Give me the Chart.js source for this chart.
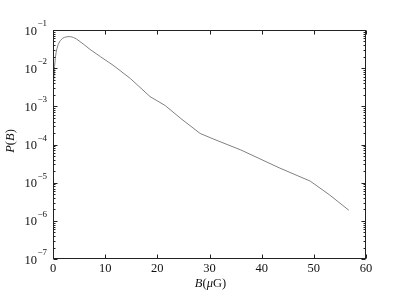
<!DOCTYPE html>
<html>
<head>
<meta charset="utf-8">
<script src="https://cdn.jsdelivr.net/npm/chart.js@4/dist/chart.umd.min.js"></script>
<style>
  html, body { margin: 0; padding: 0; background: #fff; }
  #wrap { width: 407px; height: 305px; }
</style>
</head>
<body>
<div id="wrap"><canvas id="grafico"></canvas></div>
<script>
// valores
const campoB = [0.15, 0.3, 0.44, 0.6, 0.77, 1.0, 1.4, 1.8, 2.2, 2.7, 3.3, 3.9, 4.5, 5.8, 7.1, 9.1, 11.5, 14.8, 18.6, 21.5, 24.5, 28.2, 30.7, 36, 43.5, 49.3, 53, 56.7];
const probB = [5e-3, 1.1e-2, 1.8e-2, 2.6e-2, 3.3e-2, 4.2e-2, 5.3e-2, 6.0e-2, 6.4e-2, 6.65e-2, 6.7e-2, 6.4e-2, 5.8e-2, 4.3e-2, 3.1e-2, 2.0e-2, 1.2e-2, 5.4e-3, 1.8e-3, 1.05e-3, 4.8e-4, 1.95e-4, 1.4e-4, 7.2e-5, 2.4e-5, 1.1e-5, 4.8e-6, 1.9e-6];
const ticksX = [0, 10, 20, 30, 40, 50, 60];
const expoentesY = [-7, -6, -5, -4, -3, -2, -1];

const fonte = '"Liberation Serif", "DejaVu Serif", serif';

// desenha moldura, ticks para dentro e rotulos
const eixosPlugin = {
  id: 'eixos',
  afterDraw(chart) {
    const ctx = chart.ctx;
    const a = chart.chartArea;
    const sx = chart.scales.x;
    const sy = chart.scales.y;
    const L = Math.round(a.left) + 0.5, R = Math.round(a.right) - 0.5;
    const T = Math.round(a.top) + 0.5, B = Math.round(a.bottom) - 0.5;
    ctx.save();
    ctx.strokeStyle = '#222';
    ctx.lineWidth = 1;
    ctx.strokeRect(L, T, R - L, B - T);

    ctx.beginPath();
    ticksX.forEach(v => {
      const px = Math.round(sx.getPixelForValue(v)) + 0.5;
      ctx.moveTo(px, B); ctx.lineTo(px, B - 4);
      ctx.moveTo(px, T); ctx.lineTo(px, T + 4);
    });
    expoentesY.forEach(e => {
      const py = Math.round(sy.getPixelForValue(Math.pow(10, e))) + 0.5;
      ctx.moveTo(L, py); ctx.lineTo(L + 4, py);
      ctx.moveTo(R, py); ctx.lineTo(R - 4, py);
      if (e < -1) {
        for (let m = 2; m <= 9; m++) {
          const pm = Math.round(sy.getPixelForValue(m * Math.pow(10, e))) + 0.5;
          ctx.moveTo(L, pm); ctx.lineTo(L + 2, pm);
          ctx.moveTo(R, pm); ctx.lineTo(R - 2, pm);
        }
      }
    });
    ctx.stroke();

    ctx.fillStyle = '#111';
    ctx.textBaseline = 'alphabetic';
    ctx.font = '12.5px ' + fonte;
    ctx.textAlign = 'center';
    ticksX.forEach(v => {
      ctx.fillText(String(v), sx.getPixelForValue(v), 272);
    });

    expoentesY.forEach(e => {
      const py = sy.getPixelForValue(Math.pow(10, e));
      const exp = '\u2212' + Math.abs(e);
      ctx.font = '9px ' + fonte;
      ctx.textAlign = 'right';
      ctx.fillText(exp, 47, py - 4);
      const w = ctx.measureText(exp).width;
      ctx.font = '12.5px ' + fonte;
      ctx.fillText('10', 47 - w - 0.5, py + 4.5);
    });

    // titulos dos eixos
    const partes = (segs) => segs.map(([t, estilo]) => {
      ctx.font = estilo + ' 12.5px ' + fonte;
      return { t, estilo, w: ctx.measureText(t).width };
    });
    const escrever = (segs, cx, base) => {
      const ps = partes(segs);
      const total = ps.reduce((s, p) => s + p.w, 0);
      let x = cx - total / 2;
      ctx.textAlign = 'left';
      ps.forEach(p => {
        ctx.font = p.estilo + ' 12.5px ' + fonte;
        ctx.fillText(p.t, x, base);
        x += p.w;
      });
    };
    escrever([['B', 'italic'], ['(', 'normal'], ['\u03bc', 'italic'], ['G)', 'normal']], (a.left + a.right) / 2 + 1, 287);

    ctx.translate(14, 141);
    ctx.rotate(-Math.PI / 2);
    escrever([['P', 'italic'], ['(', 'normal'], ['B', 'italic'], [')', 'normal']], 0, 0);
    ctx.restore();
  }
};

function carregarGrafico() {
  const ctx = document.getElementById('grafico').getContext('2d');
  new Chart(ctx, {
    type: 'line',
    data: {
      datasets: [{
        data: campoB.map((b, i) => ({ x: b, y: probB[i] })),
        borderColor: '#808080',
        borderWidth: 1,
        pointRadius: 0,
        tension: 0,
        fill: false
      }]
    },
    options: {
      responsive: true,
      maintainAspectRatio: false,
      animation: false,
      layout: { padding: { left: 53, right: 41, top: 30, bottom: 46 } },
      plugins: { legend: { display: false }, tooltip: { enabled: false } },
      scales: {
        x: {
          type: 'linear', min: 0, max: 60,
          ticks: { display: false },
          grid: { display: false, drawTicks: false },
          border: { display: false }
        },
        y: {
          type: 'logarithmic', min: 1e-7, max: 1e-1,
          ticks: { display: false },
          grid: { display: false, drawTicks: false },
          border: { display: false }
        }
      }
    },
    plugins: [eixosPlugin]
  });
}

window.addEventListener('DOMContentLoaded', carregarGrafico);
</script>
</body>
</html>
